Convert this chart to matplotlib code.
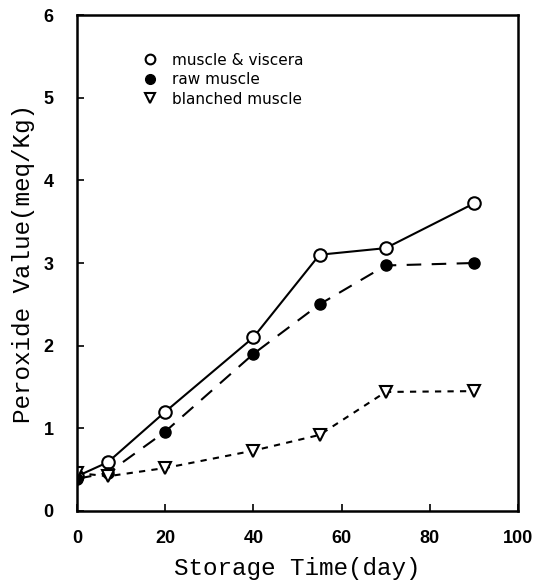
import matplotlib
matplotlib.use("Agg")
import matplotlib.pyplot as plt

# storage days
days = [0, 7, 20, 40, 55, 70, 90]

# peroxide values (meq/Kg)
muscle_viscera = [0.42, 0.59, 1.20, 2.10, 3.10, 3.18, 3.72]
raw_muscle = [0.39, 0.46, 0.96, 1.90, 2.50, 2.97, 3.00]
blanched_muscle = [0.46, 0.42, 0.52, 0.73, 0.92, 1.44, 1.45]

labels = ["muscle & viscera", "raw muscle", "blanched muscle"]
x_ticks = [0, 20, 40, 60, 80, 100]
y_ticks = [0, 1, 2, 3, 4, 5, 6]

fig = plt.figure(figsize=(5.37, 5.87), dpi=100)
ax = fig.add_axes([0.1434, 0.1295, 0.8212, 0.8449])

ax.plot(days, muscle_viscera, "k-", lw=1.5, marker="o", ms=9,
        mfc="white", mec="black", mew=1.5, label=labels[0])
ax.plot(days, raw_muscle, "k-", lw=1.5, dashes=(7, 5), marker="o", ms=8,
        mfc="black", mec="black", label=labels[1])
ax.plot(days, blanched_muscle, "k-", lw=1.5, dashes=(3, 3), marker="v", ms=9,
        mfc="white", mec="black", mew=1.5, label=labels[2])

ax.set_xlim(0, 100)
ax.set_ylim(0, 6)
ax.set_xticks(x_ticks)
ax.set_yticks(y_ticks)
ax.tick_params(direction="in", length=5, width=1.2, labelsize=13)
ax.tick_params(axis="x", pad=14)
ax.tick_params(axis="y", pad=17)
for lab in ax.get_xticklabels() + ax.get_yticklabels():
    lab.set_fontweight("bold")
    lab.set_family("Liberation Sans")
for s in ax.spines.values():
    s.set_linewidth(1.8)

ax.set_xlabel("Storage Time(day)", family="Liberation Mono", fontsize=17.5, labelpad=7)
ax.set_ylabel("Peroxide Value(meq/Kg)", family="Liberation Mono", fontsize=17.5, labelpad=6)

leg = ax.legend(loc="upper left", bbox_to_anchor=(0.135, 0.952), frameon=False,
                handlelength=0, handletextpad=1.4, labelspacing=0.3,
                prop={"family": "DejaVu Sans", "size": 11})
for h in leg.legend_handles:
    h.set_linestyle("none")
    h.set_markersize(7)

fig.savefig("out.png", dpi=100)
